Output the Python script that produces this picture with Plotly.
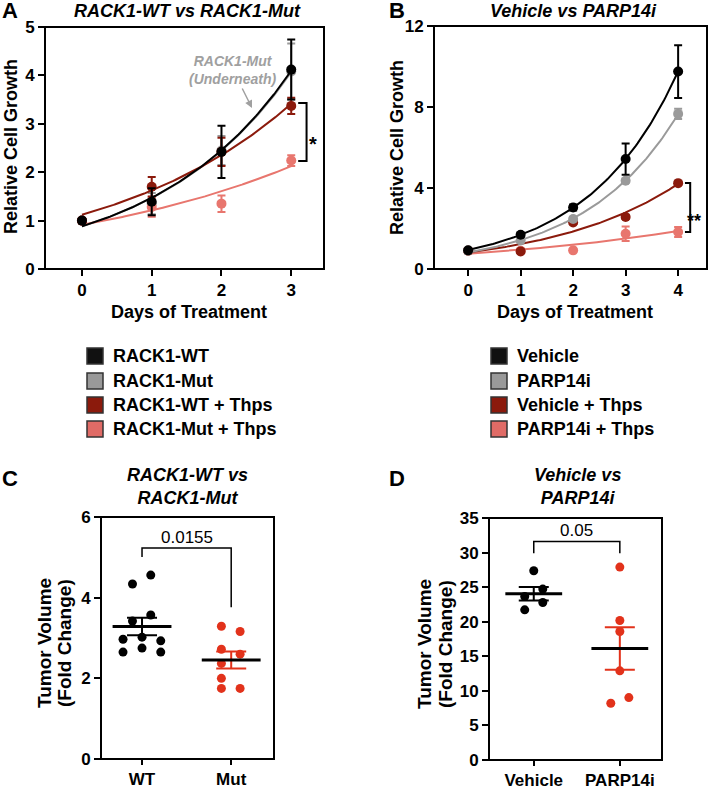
import numpy as np
import plotly.graph_objects as go

W, H = 712, 787
FONT = "Liberation Sans, Arial, sans-serif"

# ---------------- data ----------------
# Panel A: RACK1-WT vs RACK1-Mut (relative cell growth)
days_a = [0, 1, 2, 3]
a_names = ["RACK1-WT", "RACK1-Mut", "RACK1-WT + Thps", "RACK1-Mut + Thps"]
a_wt = [1.00, 1.39, 2.42, 4.12]
a_wt_err = [0.05, 0.28, 0.54, 0.62]
a_mut = [1.00, 1.35, 2.45, 4.08]
a_mut_err = [0.04, 0.22, 0.30, 0.58]
a_wt_thps = [1.00, 1.70, 2.42, 3.37]
a_wt_thps_err = [0.04, 0.20, 0.29, 0.17]
a_mut_thps = [1.00, 1.28, 1.35, 2.24]
a_mut_thps_err = [0.04, 0.20, 0.17, 0.11]

# Panel B: Vehicle vs PARP14i (relative cell growth)
days_b = [0, 1, 2, 3, 4]
b_names = ["Vehicle", "PARP14i", "Vehicle + Thps", "PARP14i + Thps"]
b_veh = [0.92, 1.69, 3.04, 5.43, 9.75]
b_veh_err = [0.06, 0.10, 0.15, 0.77, 1.30]
b_parp = [0.90, 1.41, 2.47, 4.36, 7.66]
b_parp_err = [0.05, 0.08, 0.10, 0.10, 0.25]
b_veh_thps = [0.90, 0.87, 2.30, 2.57, 4.24]
b_veh_thps_err = [0.05, 0.06, 0.08, 0.10, 0.08]
b_parp_thps = [0.90, 0.90, 0.92, 1.74, 1.83]
b_parp_thps_err = [0.05, 0.05, 0.06, 0.36, 0.25]

# Panel C: tumor volume fold change
c_groups = ["WT", "Mut"]
c_wt = [4.34, 4.56, 3.42, 3.57, 2.97, 3.02, 2.93, 2.75, 2.65, 2.65]
c_mut = [3.29, 3.16, 2.72, 2.60, 2.37, 2.00, 1.75, 1.75]
c_pval = "0.0155"

# Panel D: tumor volume fold change
d_groups = ["Vehicle", "PARP14i"]
d_veh = [27.37, 24.72, 23.65, 22.78, 21.72]
d_parp = [27.90, 20.18, 18.58, 12.89, 9.03, 8.21]
d_pval = "0.05"

# ---------------- layout helpers (positions / styles) ----------------
c_wt_jit = [-0.107, 0.098, -0.107, 0.098, -0.213, 0.0, 0.21, 0.0, -0.213, 0.21]
c_mut_jit = [-0.11, 0.10, -0.11, 0.10, -0.11, -0.11, -0.11, 0.10]
d_veh_jit = [0.0, 0.105, -0.105, 0.105, -0.105]
d_parp_jit = [0.0, 0.0, 0.0, 0.0, 0.105, -0.105]

BLACK = "#000000"
GRAY = "#9a9a9a"
DKRED = "#8b1a0c"
SALMON = "#e8766e"
RED = "#e2321b"
LEG_COLS = ["#111111", "#999999", DKRED, "#e06b66"]

# plot-area boxes in window pixels: (left, right, top, bottom)
BOX_A = (45, 324, 27, 269)
BOX_B = (434, 707, 26, 269)
BOX_C = (101, 274, 517, 759)
BOX_D = (489, 662, 518, 760)
RANGES = {
    "a": ([-0.53, 3.47], [0, 5]),
    "b": ([-0.65, 4.55], [0, 12]),
    "c": ([-0.46, 1.48], [0, 6]),
    "d": ([-0.52, 1.49], [0, 35]),
}


def px(x):
    return x / W


def py(y):
    return 1 - y / H


def dom(box):
    l, r, t, b = box
    return [px(l), px(r)], [py(b), py(t)]


def exp_fit(x, y):
    x = np.asarray(x, float)
    y = np.asarray(y, float)
    best = None
    for k in np.linspace(0.0, 1.5, 3001):
        e = np.exp(k * x)
        A = (y * e).sum() / (e * e).sum()
        sse = ((y - A * e) ** 2).sum()
        if best is None or sse < best[0]:
            best = (sse, A, k)
    return best[1], best[2]


fig = go.Figure()


def growth(xs, ys, errs, color, xa, ya, name):
    A, k = exp_fit(xs, ys)
    xx = np.linspace(min(xs), max(xs), 120).tolist()
    yy = [float(A * np.exp(k * v)) for v in xx]
    fig.add_trace(go.Scatter(x=xx, y=yy, mode="lines",
                             line=dict(color=color, width=2), showlegend=False,
                             xaxis=xa, yaxis=ya, hoverinfo="skip", name=name))
    fig.add_trace(go.Scatter(x=xs, y=ys, mode="markers", name=name,
                             marker=dict(color=color, size=10),
                             error_y=dict(type="data", array=errs, color=color,
                                          thickness=2, width=4),
                             showlegend=False, xaxis=xa, yaxis=ya))


# Panel A
growth(days_a, a_mut, a_mut_err, GRAY, "x", "y", a_names[1])
growth(days_a, a_mut_thps, a_mut_thps_err, SALMON, "x", "y", a_names[3])
growth(days_a, a_wt_thps, a_wt_thps_err, DKRED, "x", "y", a_names[2])
growth(days_a, a_wt, a_wt_err, BLACK, "x", "y", a_names[0])

# Panel B
growth(days_b, b_parp_thps, b_parp_thps_err, SALMON, "x2", "y2", b_names[3])
growth(days_b, b_veh_thps, b_veh_thps_err, DKRED, "x2", "y2", b_names[2])
growth(days_b, b_parp, b_parp_err, GRAY, "x2", "y2", b_names[1])
growth(days_b, b_veh, b_veh_err, BLACK, "x2", "y2", b_names[0])


def scatter_panel(groups_vals, jits, colors, xa, ya):
    for i, (vals, jit, col) in enumerate(zip(groups_vals, jits, colors)):
        fig.add_trace(go.Scatter(x=[i + j for j in jit], y=vals, mode="markers",
                                 marker=dict(color=col, size=9),
                                 showlegend=False, xaxis=xa, yaxis=ya))
    for i, (vals, col) in enumerate(zip(groups_vals, colors)):
        v = np.asarray(vals, float)
        m = float(v.mean())
        sem = float(v.std(ddof=1) / np.sqrt(len(v)))
        fig.add_trace(go.Scatter(x=[i], y=[m], mode="markers",
                                 marker=dict(size=2, color="rgba(0,0,0,0)"),
                                 error_y=dict(type="data", array=[sem], color=col,
                                              thickness=2, width=15),
                                 showlegend=False, xaxis=xa, yaxis=ya))
        fig.add_trace(go.Scatter(x=[i - 0.33, i + 0.33], y=[m, m], mode="lines",
                                 line=dict(color=BLACK, width=3),
                                 showlegend=False, xaxis=xa, yaxis=ya))


scatter_panel([c_wt, c_mut], [c_wt_jit, c_mut_jit], [BLACK, RED], "x3", "y3")
scatter_panel([d_veh, d_parp], [d_veh_jit, d_parp_jit], [BLACK, RED], "x4", "y4")

# frame of each plot area, traced along the axis range limits
for key, xa, ya in [("a", "x", "y"), ("b", "x2", "y2"), ("c", "x3", "y3"), ("d", "x4", "y4")]:
    (x0, x1), (y0, y1) = RANGES[key]
    fig.add_trace(go.Scatter(x=[x0, x1, x1, x0, x0], y=[y0, y0, y1, y1, y0],
                             mode="lines", line=dict(color=BLACK, width=2),
                             cliponaxis=False, hoverinfo="skip", showlegend=False,
                             xaxis=xa, yaxis=ya))

# ---------------- axes ----------------
tickfont = dict(family=FONT, size=17, color="black", weight="bold")
titlefont = dict(family=FONT, size=18, color="black", weight="bold")


def ax(**kw):
    d = dict(showline=False, ticks="outside", ticklen=6, tickwidth=2,
             tickcolor="#000000", showgrid=False, zeroline=False,
             tickfont=tickfont, automargin=False)
    d.update(kw)
    return d


dxa, dya = dom(BOX_A)
dxb, dyb = dom(BOX_B)
dxc, dyc = dom(BOX_C)
dxd, dyd = dom(BOX_D)

fig.update_layout(
    template="none",
    width=W, height=H, margin=dict(l=0, r=0, t=0, b=0, pad=0, autoexpand=False),
    paper_bgcolor="white", plot_bgcolor="rgba(0,0,0,0)",
    font=dict(family=FONT, color="black"),
    showlegend=False,
    xaxis=ax(domain=dxa, range=RANGES["a"][0], tickvals=days_a, anchor="y"),
    yaxis=ax(domain=dya, range=RANGES["a"][1], tickvals=[0, 1, 2, 3, 4, 5], anchor="x"),
    xaxis2=ax(domain=dxb, range=RANGES["b"][0], tickvals=days_b, anchor="y2"),
    yaxis2=ax(domain=dyb, range=RANGES["b"][1], tickvals=[0, 4, 8, 12], anchor="x2"),
    xaxis3=ax(domain=dxc, range=RANGES["c"][0], tickvals=[0, 1],
              ticktext=c_groups, anchor="y3", ticklen=5),
    yaxis3=ax(domain=dyc, range=RANGES["c"][1], tickvals=[0, 2, 4, 6], anchor="x3"),
    xaxis4=ax(domain=dxd, range=RANGES["d"][0], tickvals=[0, 1],
              ticktext=d_groups, anchor="y4", ticklen=5),
    yaxis4=ax(domain=dyd, range=RANGES["d"][1],
              tickvals=[0, 5, 10, 15, 20, 25, 30, 35], anchor="x4"),
)

# ---------------- annotations ----------------
ann = []


def txt(t, x, y, font, **kw):
    d = dict(text=t, x=px(x), y=py(y), xref="paper", yref="paper",
             showarrow=False, font=font, xanchor="center", yanchor="middle")
    d.update(kw)
    ann.append(d)


lab = dict(family=FONT, size=22, color="black", weight="bold")
for t, x, y in [("A", 10, 11), ("B", 397, 11), ("C", 10, 478), ("D", 397, 478)]:
    txt(t, x, y, lab)
ttl = dict(family=FONT, size=18, color="black", weight="bold", style="italic")
for t, x, y in [("RACK1-WT vs RACK1-Mut", 187, 11), ("Vehicle vs PARP14i", 573, 11),
                ("RACK1-WT vs<br>RACK1-Mut", 188, 486), ("Vehicle vs<br>PARP14i", 577, 487)]:
    txt(t, x, y, ttl)
# axis titles
txt("Days of Treatment", 189, 312, titlefont)
txt("Days of Treatment", 575, 312, titlefont)
for t, x, y in [("Relative Cell Growth", 11, 147), ("Relative Cell Growth", 397, 147),
                ("Tumor Volume", 44, 643), ("(Fold Change)", 64, 643),
                ("Tumor Volume", 424, 644), ("(Fold Change)", 445, 644)]:
    txt(t, x, y, dict(family=FONT, size=18 if "Relative" in t else 19,
                      color="black", weight="bold"), textangle=-90)
# legends (drawn as swatch + label)
leg_font = dict(family=FONT, size=18, color="black", weight="bold")
leg_rows = [356, 381, 405, 429]
shp = []
for names, sx in [(a_names, 87), (b_names, 491)]:
    for nm, col, yy in zip(names, LEG_COLS, leg_rows):
        shp.append(dict(type="rect", xref="paper", yref="paper",
                        x0=px(sx), x1=px(sx + 16), y0=py(yy + 8), y1=py(yy - 8),
                        fillcolor=col, line=dict(color="#333333", width=1.5)))
        txt(nm, sx + 24, yy, leg_font, xanchor="left")
# "Underneath" note
ann.append(dict(text="RACK1-Mut<br>(Underneath)", x=px(252), y=py(108),
                xref="paper", yref="paper", ax=-19, ay=-38, showarrow=True,
                arrowhead=2, arrowsize=1, arrowwidth=1.5, arrowcolor="#a0a0a0",
                font=dict(family=FONT, size=14, color="#a0a0a0", weight="bold",
                          style="italic")))
# significance marks
ann.append(dict(text="*", x=px(313), y=py(131), xref="paper", yref="paper",
                showarrow=False,
                font=dict(family=FONT, size=20, color="black", weight="bold")))
ann.append(dict(text="**", x=px(703), y=py(209), xref="paper", yref="paper",
                showarrow=False,
                font=dict(family=FONT, size=18, color="black", weight="bold")))
ann.append(dict(text=c_pval, x=0.5, y=5.49, xref="x3", yref="y3", showarrow=False,
                font=dict(family=FONT, size=17, color="black")))
ann.append(dict(text=d_pval, x=0.5, y=33.2, xref="x4", yref="y4", showarrow=False,
                font=dict(family=FONT, size=17, color="black")))
fig.update_layout(annotations=ann)

shp += [
    dict(type="path", path="M 3.10,3.43 L 3.22,3.43 L 3.22,2.23 L 3.10,2.23",
         xref="x", yref="y", line=dict(color="black", width=2)),
    dict(type="path", path="M 4.13,4.25 L 4.23,4.25 L 4.23,1.83 L 4.13,1.83",
         xref="x2", yref="y2", line=dict(color="black", width=2)),
    dict(type="path", path="M 0,5.01 L 0,5.23 L 1,5.23 L 1,3.76",
         xref="x3", yref="y3", line=dict(color="black", width=1.5)),
    dict(type="path", path="M 0,29.9 L 0,31.6 L 1,31.6 L 1,29.9",
         xref="x4", yref="y4", line=dict(color="black", width=1.5)),
]
# frames also as paper-referenced rectangles on top
for box in (BOX_A, BOX_B, BOX_C, BOX_D):
    l, r, t, b = box
    shp.append(dict(type="rect", xref="paper", yref="paper",
                    x0=px(l), x1=px(r), y0=py(b), y1=py(t),
                    line=dict(color="black", width=2), layer="above"))
fig.update_layout(shapes=shp)

fig.write_html("out.html", config={"staticPlot": True, "displayModeBar": False},
               post_script="document.body.style.margin='0px';")
